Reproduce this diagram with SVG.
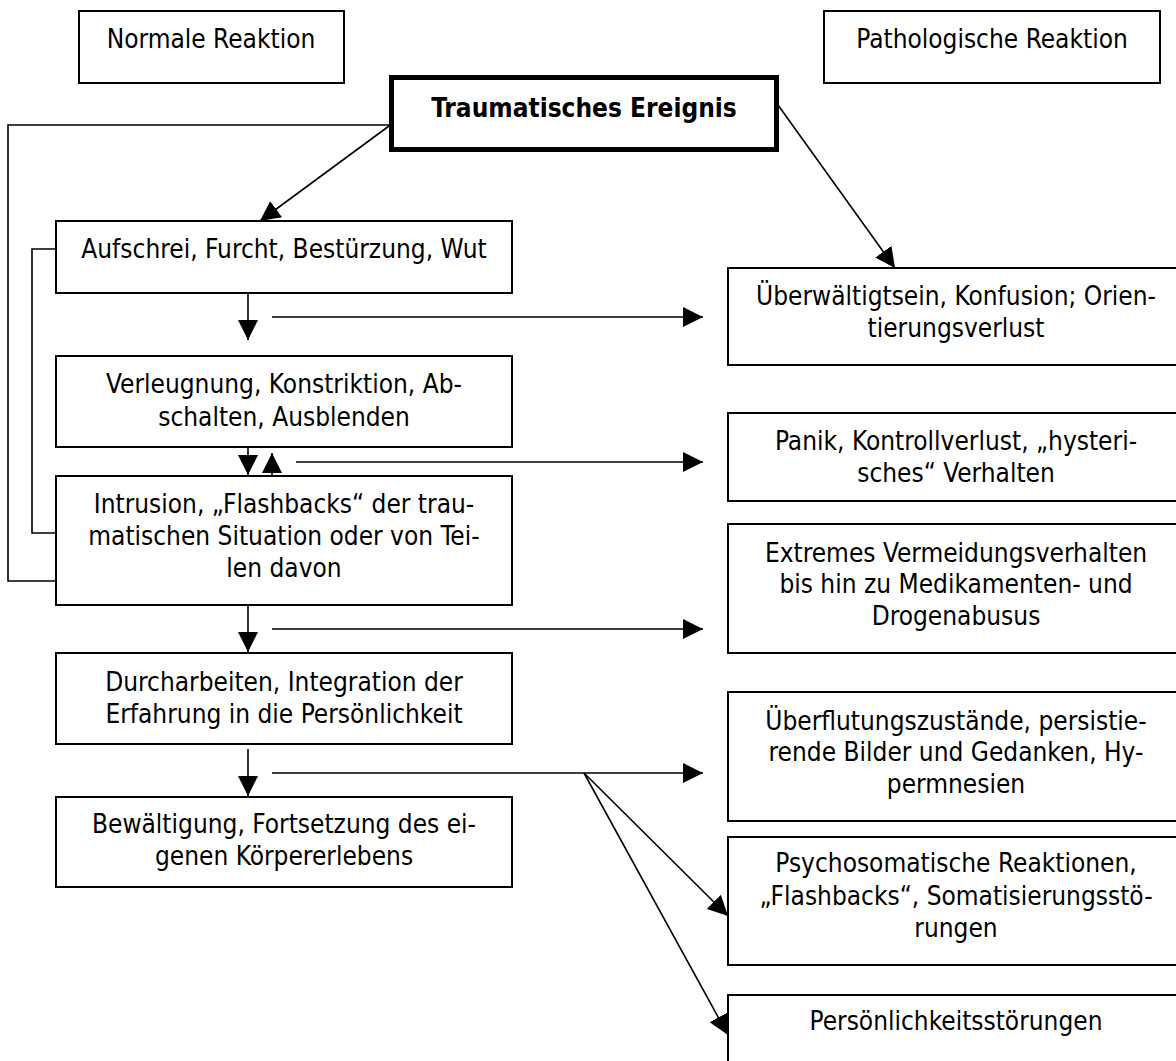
<svg xmlns="http://www.w3.org/2000/svg" width="1176" height="1061" viewBox="0 0 1176 1061">
<style>
.box{fill:#fff;stroke:#000;stroke-width:2}
.t{font-family:"DejaVu Sans Condensed","DejaVu Sans",sans-serif;font-size:26px;fill:#000;text-anchor:middle}
.b{font-weight:bold}
.c{fill:none;stroke:#000;stroke-width:1.6}
.a{marker-end:url(#ah)}
</style>
<defs>
<marker id="ah" markerUnits="userSpaceOnUse" markerWidth="20" markerHeight="20" refX="20" refY="10" orient="auto" viewBox="0 0 20 20">
<path d="M0,0 L20,10 L0,20 Z" fill="#000"/>
</marker>
</defs>
<rect width="1176" height="1061" fill="#fff"/>
<g id="connectors">
<path class="c" d="M389,125 H8 V581 H56"/>
<path class="c" d="M56,249 H32 V533 H56"/>
<line class="c a" x1="389" y1="126" x2="260" y2="221"/>
<line class="c a" x1="778" y1="105" x2="895" y2="268"/>
<line class="c a" x1="248" y1="293" x2="248" y2="340"/>
<line class="c a" x1="272" y1="317" x2="703" y2="317"/>
<line class="c a" x1="248" y1="447" x2="248" y2="475"/>
<line class="c a" x1="272" y1="476" x2="272" y2="453"/>
<line class="c a" x1="296" y1="462" x2="703" y2="462"/>
<line class="c a" x1="248" y1="605" x2="248" y2="652"/>
<line class="c a" x1="272" y1="629" x2="703" y2="629"/>
<line class="c a" x1="248" y1="749" x2="248" y2="796"/>
<line class="c a" x1="272" y1="773" x2="703" y2="773"/>
<line class="c a" x1="584" y1="773" x2="728" y2="916"/>
<line class="c a" x1="584" y1="773" x2="728" y2="1035"/>
</g>
<g id="normal">
<rect class="box" x="79" y="11" width="265" height="72"/>
<text class="t" x="211" y="48">Normale Reaktion</text>
</g>
<g id="patho">
<rect class="box" x="824" y="11" width="336" height="72"/>
<text class="t" x="992" y="48">Pathologische Reaktion</text>
</g>
<g id="trauma">
<rect x="391.5" y="77.5" width="385" height="72" fill="#fff" stroke="#000" stroke-width="5"/>
<text class="t b" x="584" y="117">Traumatisches Ereignis</text>
</g>
<g id="aufschrei">
<rect class="box" x="56" y="221" width="456" height="72"/>
<text class="t" x="284" y="258">Aufschrei, Furcht, Bestürzung, Wut</text>
</g>
<g id="verleugnung">
<rect class="box" x="56" y="356" width="456" height="91"/>
<text class="t" x="284" y="393">Verleugnung, Konstriktion, Ab-</text>
<text class="t" x="284" y="426">schalten, Ausblenden</text>
</g>
<g id="intrusion">
<rect class="box" x="56" y="476" width="456" height="129"/>
<text class="t" x="284" y="513">Intrusion, „Flashbacks“ der trau-</text>
<text class="t" x="284" y="545">matischen Situation oder von Tei-</text>
<text class="t" x="284" y="577">len davon</text>
</g>
<g id="durcharbeiten">
<rect class="box" x="56" y="653" width="456" height="91"/>
<text class="t" x="284" y="691">Durcharbeiten, Integration der</text>
<text class="t" x="284" y="723">Erfahrung in die Persönlichkeit</text>
</g>
<g id="bewaeltigung">
<rect class="box" x="56" y="797" width="456" height="90"/>
<text class="t" x="284" y="833">Bewältigung, Fortsetzung des ei-</text>
<text class="t" x="284" y="865">genen Körpererlebens</text>
</g>
<g id="ueberwaeltigt">
<rect class="box" x="728" y="268" width="456" height="97"/>
<text class="t" x="956" y="305">Überwältigtsein, Konfusion; Orien-</text>
<text class="t" x="956" y="337">tierungsverlust</text>
</g>
<g id="panik">
<rect class="box" x="728" y="413" width="456" height="88"/>
<text class="t" x="956" y="450">Panik, Kontrollverlust, „hysteri-</text>
<text class="t" x="956" y="482">sches“ Verhalten</text>
</g>
<g id="extremes">
<rect class="box" x="728" y="524" width="456" height="129"/>
<text class="t" x="956" y="562">Extremes Vermeidungsverhalten</text>
<text class="t" x="956" y="593">bis hin zu Medikamenten- und</text>
<text class="t" x="956" y="625">Drogenabusus</text>
</g>
<g id="ueberflutung">
<rect class="box" x="728" y="692" width="456" height="129"/>
<text class="t" x="956" y="730">Überflutungszustände, persistie-</text>
<text class="t" x="956" y="761">rende Bilder und Gedanken, Hy-</text>
<text class="t" x="956" y="793">permnesien</text>
</g>
<g id="psychosomatisch">
<rect class="box" x="728" y="837" width="456" height="128"/>
<text class="t" x="956" y="872">Psychosomatische Reaktionen,</text>
<text class="t" x="956" y="905">„Flashbacks“, Somatisierungsstö-</text>
<text class="t" x="956" y="937">rungen</text>
</g>
<g id="persoenlichkeit">
<rect class="box" x="728" y="995" width="456" height="100"/>
<text class="t" x="956" y="1030">Persönlichkeitsstörungen</text>
</g>
</svg>
